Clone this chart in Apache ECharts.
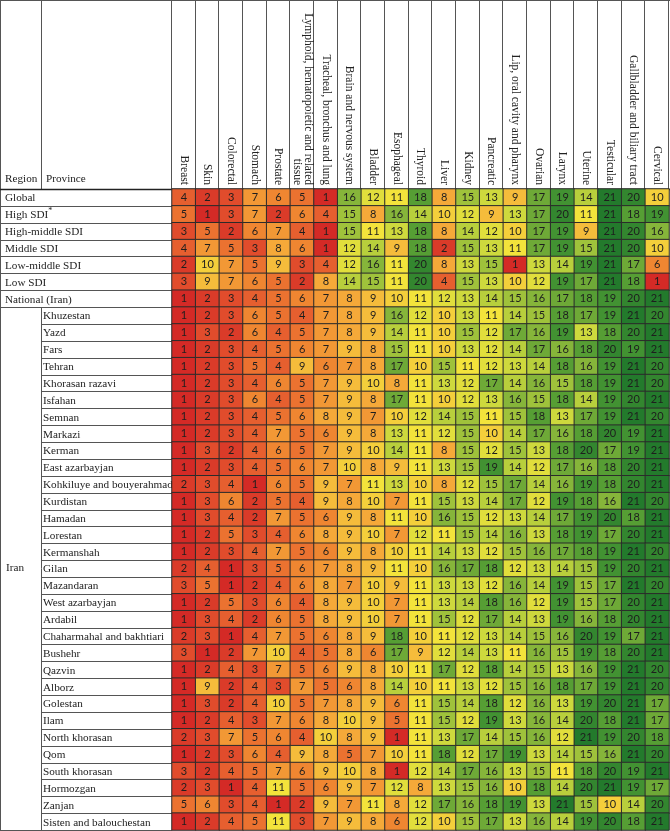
<!DOCTYPE html>
<html>
<head>
<meta charset="utf-8">
<script src="https://cdn.jsdelivr.net/npm/echarts@6/dist/echarts.min.js"></script>
<style>
html,body{margin:0;padding:0;background:#fff;}
#main{width:670px;height:831px;}
</style>
</head>
<body>
<div id="main"></div>
<script>
const cancerTypes = ['Breast','Skin','Colorectal','Stomach','Prostate',
  'Lymphoid, hematopoietic and related\ntissue','Tracheal, bronchus and lung',
  'Brain and nervous system','Bladder','Esophageal','Thyroid','Liver','Kidney',
  'Pancreatic','Lip, oral cavity and pharynx','Ovarian','Larynx','Uterine',
  'Testicular','Gallbladder and biliary tract','Cervical'];

const summaryRows = ['Global','High SDI*','High-middle SDI','Middle SDI','Low-middle SDI','Low SDI','National (Iran)'];

const summaryRanks = [
  [4,2,3,7,6,5,1,16,12,11,18,8,15,13,9,17,19,14,21,20,10],
  [5,1,3,7,2,6,4,15,8,16,14,10,12,9,13,17,20,11,21,18,19],
  [3,5,2,6,7,4,1,15,11,13,18,8,14,12,10,17,19,9,21,20,16],
  [4,7,5,3,8,6,1,12,14,9,18,2,15,13,11,17,19,15,21,20,10],
  [2,10,7,5,9,3,4,12,16,11,20,8,13,15,1,13,14,19,21,17,6],
  [3,9,7,6,5,2,8,14,15,11,20,4,15,13,10,12,19,17,21,18,1],
  [1,2,3,4,5,6,7,8,9,10,11,12,13,14,15,16,17,18,19,20,21]
];

const regionName = 'Iran';

const provinces = ['Khuzestan','Yazd','Fars','Tehran','Khorasan razavi','Isfahan','Semnan',
  'Markazi','Kerman','East azarbayjan','Kohkiluye and bouyerahmad','Kurdistan','Hamadan',
  'Lorestan','Kermanshah','Gilan','Mazandaran','West azarbayjan','Ardabil',
  'Chaharmahal and bakhtiari','Bushehr','Qazvin','Alborz','Golestan','Ilam',
  'North khorasan','Qom','South khorasan','Hormozgan','Zanjan','Sisten and balouchestan'];

const provinceRanks = [
  [1,2,3,6,5,4,7,8,9,16,12,10,13,11,14,15,18,17,19,21,20],
  [1,3,2,6,4,5,7,8,9,14,11,10,15,12,17,16,19,13,18,20,21],
  [1,2,3,4,5,6,7,9,8,15,11,10,13,12,14,17,16,18,20,19,21],
  [1,2,3,5,4,9,6,7,8,17,10,15,11,12,13,14,18,16,19,21,20],
  [1,2,3,4,6,5,7,9,10,8,11,13,12,17,14,16,15,18,19,21,20],
  [1,2,3,6,4,5,7,9,8,17,11,10,12,13,16,15,18,14,19,20,21],
  [1,2,3,4,5,6,8,9,7,10,12,14,15,11,15,18,13,17,19,21,20],
  [1,2,3,4,7,5,6,9,8,13,11,12,15,10,14,17,16,18,20,19,21],
  [1,3,2,4,6,5,7,9,10,14,11,8,15,12,15,13,18,20,17,19,21],
  [1,2,3,4,5,6,7,10,8,9,11,13,15,19,14,12,17,16,18,20,21],
  [2,3,4,1,6,5,9,7,11,13,10,8,12,15,17,14,16,19,18,20,21],
  [1,3,6,2,5,4,9,8,10,7,11,15,13,14,17,12,19,18,16,21,20],
  [1,3,4,2,7,5,6,9,8,11,10,16,15,12,13,14,17,19,20,18,21],
  [1,2,5,3,4,6,8,9,10,7,12,11,15,14,16,13,18,19,17,20,21],
  [1,2,3,4,7,5,6,9,8,10,11,14,13,12,15,16,17,18,19,21,20],
  [2,4,1,3,5,6,7,8,9,11,10,16,17,18,12,13,14,15,19,20,21],
  [3,5,1,2,4,6,8,7,10,9,11,13,13,12,16,14,19,15,17,21,20],
  [1,2,5,3,6,4,8,9,10,7,11,13,14,18,16,12,19,15,17,20,21],
  [1,3,4,2,6,5,8,9,10,7,11,15,12,17,14,13,19,16,18,20,21],
  [2,3,1,4,7,5,6,8,9,18,10,11,12,13,14,15,16,20,19,17,21],
  [3,1,2,7,10,4,5,8,6,17,9,12,14,13,11,16,15,19,18,20,21],
  [1,2,4,3,7,5,6,9,8,10,11,17,12,18,14,15,13,16,19,21,20],
  [1,9,2,4,3,7,5,6,8,14,10,11,13,12,15,16,18,17,19,21,20],
  [1,3,2,4,10,5,7,8,9,6,11,15,14,18,12,16,13,19,20,21,17],
  [1,2,4,3,7,6,8,10,9,5,11,15,12,19,13,16,14,20,18,21,17],
  [2,3,7,5,6,4,10,8,9,1,11,13,17,14,15,16,12,21,19,20,18],
  [1,2,3,6,4,9,8,5,7,10,11,18,12,17,19,13,14,15,16,21,20],
  [3,2,4,5,7,6,9,10,8,1,12,14,17,16,13,15,11,18,20,19,21],
  [2,3,1,4,11,5,6,9,7,12,8,13,15,16,10,18,14,20,21,19,17],
  [5,6,3,4,1,2,9,7,11,8,12,17,16,18,19,13,21,15,10,14,20],
  [1,2,4,5,11,3,7,9,8,6,12,10,15,17,13,16,14,19,20,18,21]
];

const allRows = summaryRows.concat(provinces);
const allRanks = summaryRanks.concat(provinceRanks);
const data = [];
allRanks.forEach((row, r) => row.forEach((v, c) => data.push([c, r, v])));

const GRID = {left:172, right:1, top:189, bottom:1};
const serif = "'Liberation Serif', 'Times New Roman', serif";
const LBL = 11.2;

const chart = echarts.init(document.getElementById('main'), null, {renderer:'canvas'});
chart.setOption({
  backgroundColor:'#ffffff',
  animation:false,
  grid:{left:GRID.left, right:GRID.right, top:GRID.top, bottom:GRID.bottom, containLabel:false},
  xAxis:{
    type:'category', data:cancerTypes, position:'top',
    axisLine:{show:false}, axisTick:{show:false}, splitLine:{show:false},
    axisLabel:{interval:0, rotate:90, margin:4, fontFamily:serif, fontSize:11.5, color:'#222', lineHeight:11}
  },
  yAxis:{
    type:'category', data:allRows, inverse:true,
    axisLine:{show:false}, axisTick:{show:false}, splitLine:{show:false},
    axisLabel:{
      interval:0, align:'left', margin:167, fontFamily:serif, fontSize:LBL, color:'#222',
      formatter:function(v, i){
        if (i < summaryRows.length) {
          if (v.endsWith('*')) return '{a|' + v.slice(0,-1) + '}{s|*}';
          return '{a|' + v + '}';
        }
        return '{p|' + v + '}';
      },
      rich:{
        a:{fontFamily:serif, fontSize:LBL, color:'#222', padding:[2,0,0,0]},
        s:{fontFamily:serif, fontSize:8, color:'#222', padding:[0,0,6,0]},
        p:{fontFamily:serif, fontSize:LBL, color:'#222', padding:[2,0,0,38]}
      }
    }
  },
  visualMap:{
    show:false, min:1, max:21, dimension:2,
    inRange:{color:['#d42a26','#e4552e','#ef8631','#f6b23b','#f3e33b','#c5d63d','#86b53a','#4a9833','#237a2c']}
  },
  series:[{
    type:'heatmap', data:data,
    itemStyle:{borderColor:'#2b2b2b', borderWidth:1},
    label:{show:true, fontFamily:"Lato, 'Open Sans', sans-serif", fontSize:11, color:'#1e1e1e',
      formatter:function(p){return p.value[2];}}
  }]
});

// table rules for the label/header area
const cW = chart.getWidth(), cH = chart.getHeight();
const gTop = GRID.top, gBottom = cH - GRID.bottom, gLeft = GRID.left, gRight = cW - GRID.right;
const nRows = allRows.length, nCols = cancerTypes.length;
const rowH = (gBottom - gTop) / nRows, colW = (gRight - gLeft) / nCols;
const lineStyle = {stroke:'#555', lineWidth:1};
const g = [];
for (let i = 0; i <= nRows; i++) {
  const y = Math.round(gTop + i * rowH) + 0.5;
  const x0 = (i <= summaryRows.length || i === nRows) ? 0 : 41;
  g.push({type:'line', shape:{x1:x0, y1:y, x2:gLeft, y2:y}, style:lineStyle, silent:true});
}
g.push({type:'line', shape:{x1:0.5, y1:0, x2:0.5, y2:gBottom}, style:lineStyle, silent:true});
g.push({type:'line', shape:{x1:41.5, y1:0, x2:41.5, y2:gTop}, style:lineStyle, silent:true});
g.push({type:'line', shape:{x1:41.5, y1:gTop + summaryRows.length*rowH, x2:41.5, y2:gBottom}, style:lineStyle, silent:true});
g.push({type:'line', shape:{x1:0, y1:0.5, x2:cW, y2:0.5}, style:lineStyle, silent:true});
for (let j = 0; j <= nCols; j++) {
  const x = Math.round(gLeft + j * colW) - 0.5;
  g.push({type:'line', shape:{x1:x, y1:0, x2:x, y2:gTop}, style:lineStyle, silent:true});
}
g.push({type:'line', shape:{x1:0, y1:gTop+0.5, x2:cW, y2:gTop+0.5}, style:{stroke:'#222', lineWidth:1.5}, silent:true});
g.push({type:'text', left:5, top:gTop-15, style:{text:'Region', font:LBL + 'px ' + serif, fill:'#222'}});
g.push({type:'text', left:46, top:gTop-15, style:{text:'Province', font:LBL + 'px ' + serif, fill:'#222'}});
const iranY = (gTop + summaryRows.length*rowH + gBottom) / 2;
g.push({type:'text', x:6, y:iranY, style:{text:regionName, font:LBL + 'px ' + serif, fill:'#222', textVerticalAlign:'middle'}});
chart.setOption({graphic:g});
</script>
</body>
</html>
